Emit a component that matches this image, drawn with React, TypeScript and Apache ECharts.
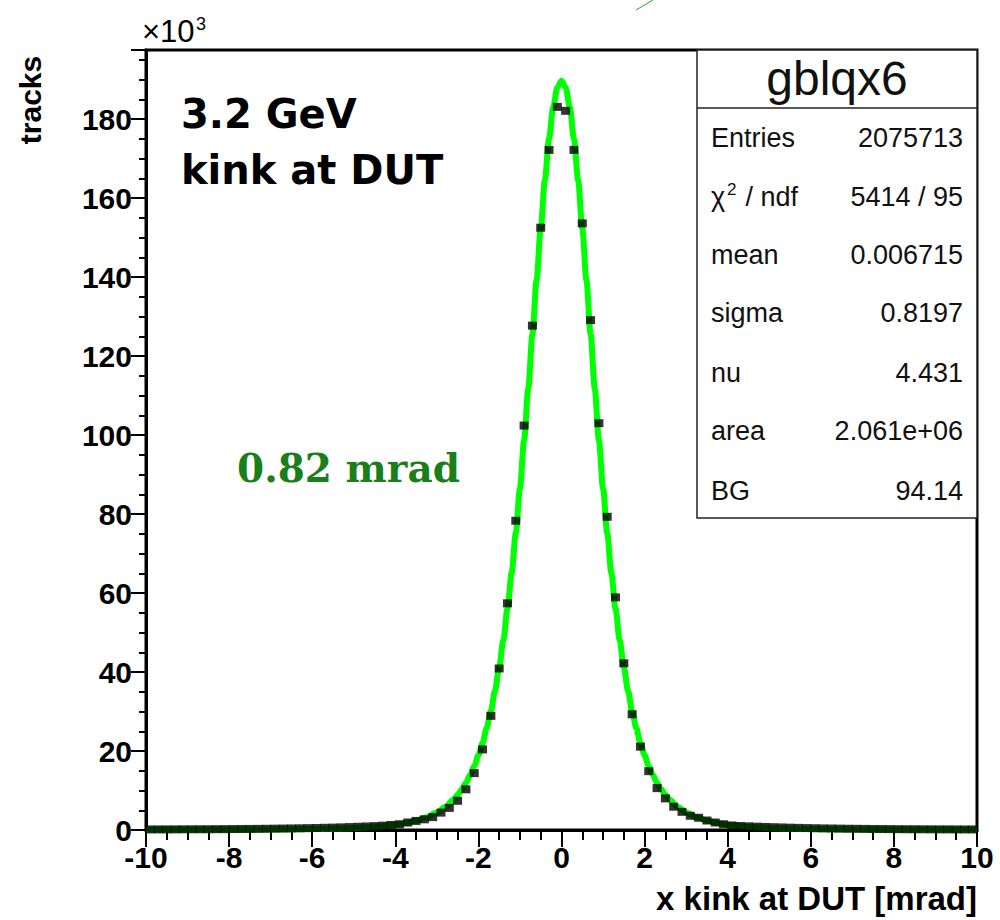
import React, { useEffect, useRef } from "react";
import * as echarts from "echarts";

// Histogram: 100 bins from -10 to 10 mrad, contents in units of 10^3 tracks
const BIN_LOW = -10;
const BIN_WIDTH = 0.2;
const binCounts = [
  0.14, 0.15, 0.15, 0.16, 0.17, 0.18, 0.19, 0.2, 0.21, 0.22,
  0.24, 0.25, 0.27, 0.29, 0.31, 0.34, 0.37, 0.4, 0.43, 0.47,
  0.51, 0.56, 0.61, 0.67, 0.74, 0.82, 0.9, 0.99, 1.1, 1.28,
  1.45, 1.9, 2.3, 2.7, 3.25, 4.4, 5.6, 7.4, 10.3, 14.4,
  20.4, 28.9, 40.9, 57.4, 78.3, 102.4, 127.7, 152.5, 172.2, 183.1,
  182.1, 172.2, 153.6, 129.1, 103.0, 79.3, 58.9, 42.2, 29.3, 21.1,
  14.9, 10.6, 8.0, 5.9, 4.6, 3.6, 3.1, 2.4, 1.9, 1.45,
  1.15, 1.02, 0.93, 0.85, 0.78, 0.71, 0.65, 0.59, 0.54, 0.49,
  0.45, 0.41, 0.38, 0.35, 0.32, 0.3, 0.28, 0.26, 0.24, 0.23,
  0.21, 0.2, 0.19, 0.18, 0.17, 0.16, 0.16, 0.15, 0.14, 0.14,
];

// Fitted Student-t curve, sampled (x in mrad, y in 10^3 tracks)
const fitX = [
  -10, -9, -8, -7, -6, -5, -4.5, -4, -3.75, -3.5, -3.25, -3, -2.8, -2.6, -2.5, -2.4,
  -2.3, -2.2, -2.1, -2, -1.9, -1.8, -1.7, -1.6, -1.5, -1.4, -1.3, -1.2, -1.1, -1,
  -0.9, -0.8, -0.7, -0.6, -0.5, -0.4, -0.3, -0.2, -0.1, 0,
  0.1, 0.2, 0.3, 0.4, 0.5, 0.6, 0.7, 0.8, 0.9, 1, 1.1, 1.2, 1.3, 1.4, 1.5, 1.6,
  1.7, 1.8, 1.9, 2, 2.1, 2.2, 2.3, 2.4, 2.5, 2.6, 2.8, 3, 3.25, 3.5, 3.75, 4,
  4.5, 5, 6, 7, 8, 9, 10,
];
const fitY = [
  0.11, 0.12, 0.13, 0.17, 0.27, 0.53, 0.81, 1.33, 1.75, 2.35, 3.2, 4.4, 5.8, 7.7, 8.9, 10.3,
  11.9, 13.9, 16.2, 18.9, 22.0, 25.8, 30.1, 35.3, 41.2, 48.1, 56.0, 65.1, 75.2, 86.5,
  98.7, 111.8, 125.5, 139.2, 152.4, 164.6, 175.0, 183.0, 188.0, 189.7,
  188.0, 183.0, 175.0, 164.6, 152.4, 139.2, 125.5, 111.8, 98.7, 86.5, 75.2, 65.1, 56.0, 48.1, 41.2, 35.3,
  30.1, 25.8, 22.0, 18.9, 16.2, 13.9, 11.9, 10.3, 8.9, 7.7, 5.8, 4.4, 3.2, 2.35, 1.75, 1.33,
  0.81, 0.53, 0.27, 0.17, 0.13, 0.12, 0.11,
];

const statsTitle = "gblqx6";
const statsLabels = ["Entries", "", "mean", "sigma", "nu", "area", "BG"];
const statsValues = ["2075713", "5414 / 95", "0.006715", "0.8197", "4.431", "2.061e+06", "94.14"];

const SANS = "'Liberation Sans', Arial, sans-serif";
const DEJAVU = "'DejaVu Sans', sans-serif";
const SERIF = "'DejaVu Serif', serif";

export default function App() {
  const ref = useRef<HTMLDivElement>(null);

  useEffect(() => {
    const chart = echarts.init(ref.current!, null, { renderer: "svg" });

    const points = binCounts.map((v, i) => [BIN_LOW + BIN_WIDTH * (i + 0.5), v]);
    const curve = fitX.map((x, i) => [x, fitY[i]]);

    const boxX = 697;
    const boxY = 50;
    const boxW = 280;
    const boxH = 468;
    const rowY = [138, 197, 255, 313, 373, 431, 491];

    const statsText: any[] = [];
    statsLabels.forEach((lab, i) => {
      if (lab) {
        statsText.push({
          type: "text",
          x: 711,
          y: rowY[i],
          style: { text: lab, font: `27px ${SANS}`, fill: "#111", align: "left", verticalAlign: "middle" },
        });
      }
      statsText.push({
        type: "text",
        x: 963,
        y: rowY[i],
        style: { text: statsValues[i], font: `27px ${SANS}`, fill: "#111", align: "right", verticalAlign: "middle" },
      });
    });
    // chi^2 / ndf label with superscript
    statsText.push(
      {
        type: "text",
        x: 711,
        y: rowY[1],
        style: { text: "χ", font: `27px ${SANS}`, fill: "#111", align: "left", verticalAlign: "middle" },
      },
      {
        type: "text",
        x: 727,
        y: rowY[1] - 8,
        style: { text: "2", font: `17px ${SANS}`, fill: "#111", align: "left", verticalAlign: "middle" },
      },
      {
        type: "text",
        x: 738,
        y: rowY[1],
        style: { text: " / ndf", font: `27px ${SANS}`, fill: "#111", align: "left", verticalAlign: "middle" },
      }
    );

    chart.setOption({
      animation: false,
      backgroundColor: "#fff",
      grid: {
        left: 146,
        right: 23,
        top: 50,
        bottom: 90,
        show: true,
        borderColor: "#000",
        borderWidth: 3,
        backgroundColor: "#fff",
      },
      xAxis: {
        type: "value",
        min: -10,
        max: 10,
        interval: 2,
        axisLine: { show: true, onZero: false, lineStyle: { color: "#000", width: 3 } },
        axisTick: { show: true, length: 17, lineStyle: { color: "#000", width: 2 } },
        minorTick: { show: true, splitNumber: 4, length: 10, lineStyle: { color: "#000", width: 2 } },
        splitLine: { show: false },
        axisLabel: {
          margin: 12,
          color: "#000",
          fontFamily: SANS,
          fontWeight: "bold",
          fontSize: 30,
        },
      },
      yAxis: {
        type: "value",
        min: 0,
        max: 197.5,
        interval: 20,
        axisLine: { show: true, onZero: false, lineStyle: { color: "#000", width: 3 } },
        axisTick: { show: true, length: 15, lineStyle: { color: "#000", width: 2 } },
        minorTick: { show: true, splitNumber: 4, length: 7, lineStyle: { color: "#000", width: 2 } },
        splitLine: { show: false },
        axisLabel: {
          margin: 14,
          color: "#000",
          fontFamily: SANS,
          fontWeight: "bold",
          fontSize: 30,
          showMaxLabel: false,
          formatter: (v: number) => (v % 20 === 0 ? String(v) : ""),
        },
      },
      series: [
        {
          type: "line",
          name: "fit",
          data: curve,
          showSymbol: false,
          smooth: 0.3,
          smoothMonotone: "x",
          clip: true,
          lineStyle: { color: "#00ff00", width: 6 },
          z: 2,
        },
        {
          type: "scatter",
          name: "data",
          data: points,
          symbol: "rect",
          symbolSize: [9, 8],
          clip: true,
          itemStyle: { color: "#000" },
          z: 3,
        },
      ],
      graphic: [
        // y-axis multiplier
        {
          type: "text",
          x: 142,
          y: 47,
          z: 100,
          style: { text: "×10", font: `31px ${SANS}`, fill: "#000", align: "left", verticalAlign: "bottom" },
        },
        {
          type: "text",
          x: 196,
          y: 15,
          z: 100,
          style: { text: "3", font: `18px ${SANS}`, fill: "#000", align: "left", verticalAlign: "top" },
        },
        // y-axis title
        {
          type: "text",
          x: 30,
          y: 100,
          rotation: Math.PI / 2,
          z: 100,
          style: {
            text: "tracks",
            font: `bold 30px ${SANS}`,
            fill: "#000",
            align: "center",
            verticalAlign: "middle",
          },
        },
        // x-axis title
        {
          type: "text",
          x: 977,
          y: 898,
          z: 100,
          style: {
            text: "x kink at DUT [mrad]",
            font: `bold 33px ${SANS}`,
            fill: "#000",
            align: "right",
            verticalAlign: "middle",
          },
        },
        // annotations
        {
          type: "text",
          x: 181,
          y: 114,
          z: 100,
          style: { text: "3.2 GeV", font: `bold 40px ${DEJAVU}`, fill: "#000", align: "left", verticalAlign: "middle" },
        },
        {
          type: "text",
          x: 181,
          y: 170,
          z: 100,
          style: { text: "kink at DUT", font: `bold 40px ${DEJAVU}`, fill: "#000", align: "left", verticalAlign: "middle" },
        },
        {
          type: "text",
          x: 237,
          y: 468,
          z: 100,
          style: { text: "0.82 mrad", font: `bold 39px ${SERIF}`, fill: "#1a7f1a", align: "left", verticalAlign: "middle" },
        },
        {
          type: "line",
          z: 100,
          shape: { x1: 636, y1: 10, x2: 653, y2: 0 },
          style: { stroke: "#2f9f2f", lineWidth: 1 },
        },
        // statistics box
        {
          type: "rect",
          z: 100,
          shape: { x: boxX, y: boxY, width: boxW, height: boxH },
          style: { fill: "#fff", stroke: "#222", lineWidth: 1.5 },
        },
        {
          type: "line",
          z: 101,
          shape: { x1: boxX, y1: 108, x2: boxX + boxW, y2: 108 },
          style: { stroke: "#222", lineWidth: 1.5 },
        },
        {
          type: "text",
          x: 837,
          y: 78,
          z: 101,
          style: { text: statsTitle, font: `48px ${SANS}`, fill: "#111", align: "center", verticalAlign: "middle" },
        },
        ...statsText.map((t) => ({ ...t, z: 101 })),
      ],
    });

    return () => chart.dispose();
  }, []);

  return (
    <div
      ref={ref}
      style={{ position: "absolute", left: 0, top: 0, width: 1000, height: 920, background: "#fff" }}
    />
  );
}
